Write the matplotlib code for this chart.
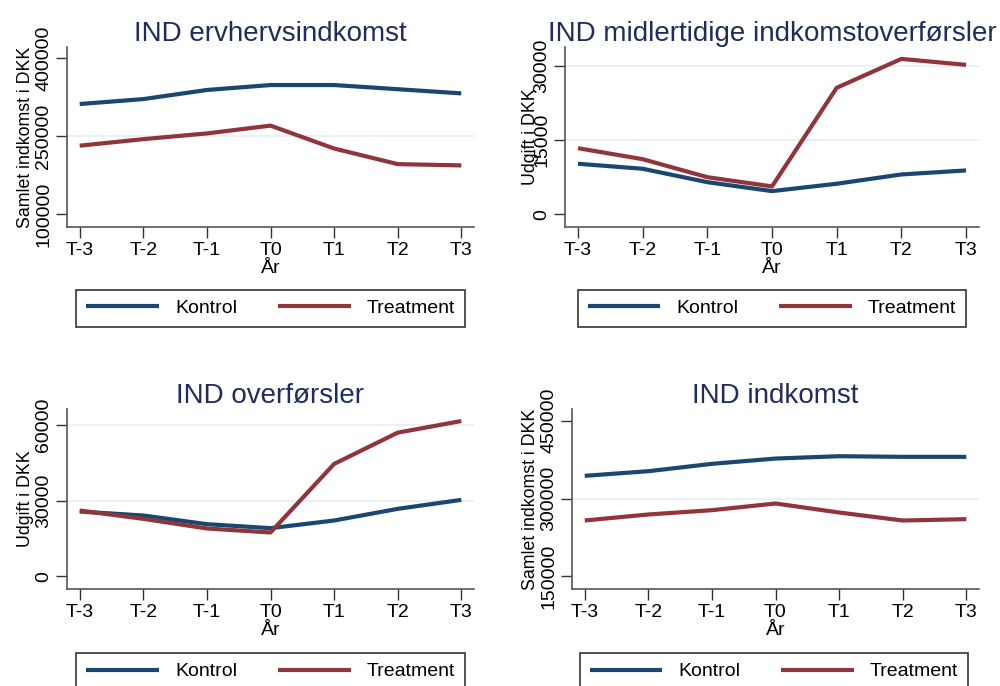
import matplotlib.pyplot as plt
import matplotlib.ticker as mticker

plt.rcParams["font.family"] = ["Liberation Sans", "DejaVu Sans"]

# Data
periods = ["T-3", "T-2", "T-1", "T0", "T1", "T2", "T3"]
x = list(range(-3, 4))

erhverv_kontrol = [311500, 321000, 338500, 348000, 348000, 340000, 332000]
erhverv_treat = [231400, 244000, 255000, 270000, 226000, 196000, 193500]

midl_kontrol = [10240, 9230, 6520, 4710, 6200, 8080, 8890]
midl_treat = [13390, 11170, 7530, 5660, 25600, 31450, 30240]

overf_kontrol = [25650, 24080, 20660, 19080, 22100, 26710, 30260]
overf_treat = [26050, 22760, 18950, 17370, 44470, 56840, 61440]

indk_kontrol = [343700, 352600, 366800, 377000, 381500, 380300, 380300]
indk_treat = [257600, 269200, 277500, 290400, 273000, 257600, 260200]

navy = "#1a476f"
maroon = "#90353b"
title_col = "#1e2d5c"
grid_col = "#e6eff1"

fig = plt.figure(figsize=(10, 6.86), dpi=100)

panels = [
    # title, kontrol, treatment, ylabel, ticks, gridlines, ylim, axes rect, ylabel x, legend centre
    ("IND ervhervsindkomst", erhverv_kontrol, erhverv_treat, "Samlet indkomst i DKK",
     [100000, 250000, 400000], [250000], (75000, 421000),
     [0.067, 0.669, 0.407, 0.2624], -0.081, (0.2705, 0.5503)),
    ("IND midlertidige indkomstoverførsler", midl_kontrol, midl_treat, "Udgift i DKK",
     [0, 15000, 30000], [15000, 30000], (-2560, 33840),
     [0.565, 0.669, 0.414, 0.2624], -0.062, (0.772, 0.5503)),
    ("IND overførsler", overf_kontrol, overf_treat, "Udgift i DKK",
     [0, 30000, 60000], [30000, 60000], (-4980, 66200),
     [0.067, 0.1414, 0.407, 0.2624], -0.081, (0.2705, 0.0211)),
    ("IND indkomst", indk_kontrol, indk_treat, "Samlet indkomst i DKK",
     [150000, 300000, 450000], [300000], (125600, 472500),
     [0.572, 0.1414, 0.407, 0.2624], -0.081, (0.774, 0.0211)),
]

for title, kon, tre, ylab, yt, grids, ylim, rect, ylx, legc in panels:
    ax = fig.add_axes(rect)
    for g in grids:
        ax.axhline(g, color=grid_col, lw=1.2, zorder=0)
    l1, = ax.plot(x, kon, color=navy, lw=3, label="Kontrol", solid_capstyle="butt")
    l2, = ax.plot(x, tre, color=maroon, lw=3, label="Treatment", solid_capstyle="butt")
    ax.set_xlim(-3.2, 3.2)
    ax.set_ylim(*ylim)
    ax.set_xticks(x)
    ax.set_xticklabels(periods)
    ax.set_yticks(yt)
    ax.yaxis.set_major_formatter(mticker.FuncFormatter(lambda v, p: "%d" % v))
    for lab in ax.get_yticklabels():
        lab.set_rotation(90)
        lab.set_va("center")
    ax.tick_params(axis="both", direction="out", length=8, width=1, labelsize=14,
                   color="#333333", pad=2.5)
    ax.tick_params(axis="x", pad=3)
    for s in ["top", "right"]:
        ax.spines[s].set_visible(False)
    for s in ["left", "bottom"]:
        ax.spines[s].set_color("#555555")
        ax.spines[s].set_linewidth(1.2)
    ax.set_ylabel(ylab, fontsize=12.8)
    ax.yaxis.set_label_coords(ylx, 0.5)
    ax.set_xlabel("År", fontsize=14, labelpad=0.5)
    ax.set_title(title, fontsize=20, color=title_col, pad=3.5)

    leg = fig.legend(handles=[l1, l2], loc="center", bbox_to_anchor=legc,
                     ncol=2, frameon=True, fancybox=False,
                     edgecolor="black", fontsize=14, handlelength=3.75,
                     handletextpad=0.82, columnspacing=2.1, borderpad=0.5)
    leg.get_frame().set_linewidth(1.2)

fig.savefig("out.png", dpi=100)
